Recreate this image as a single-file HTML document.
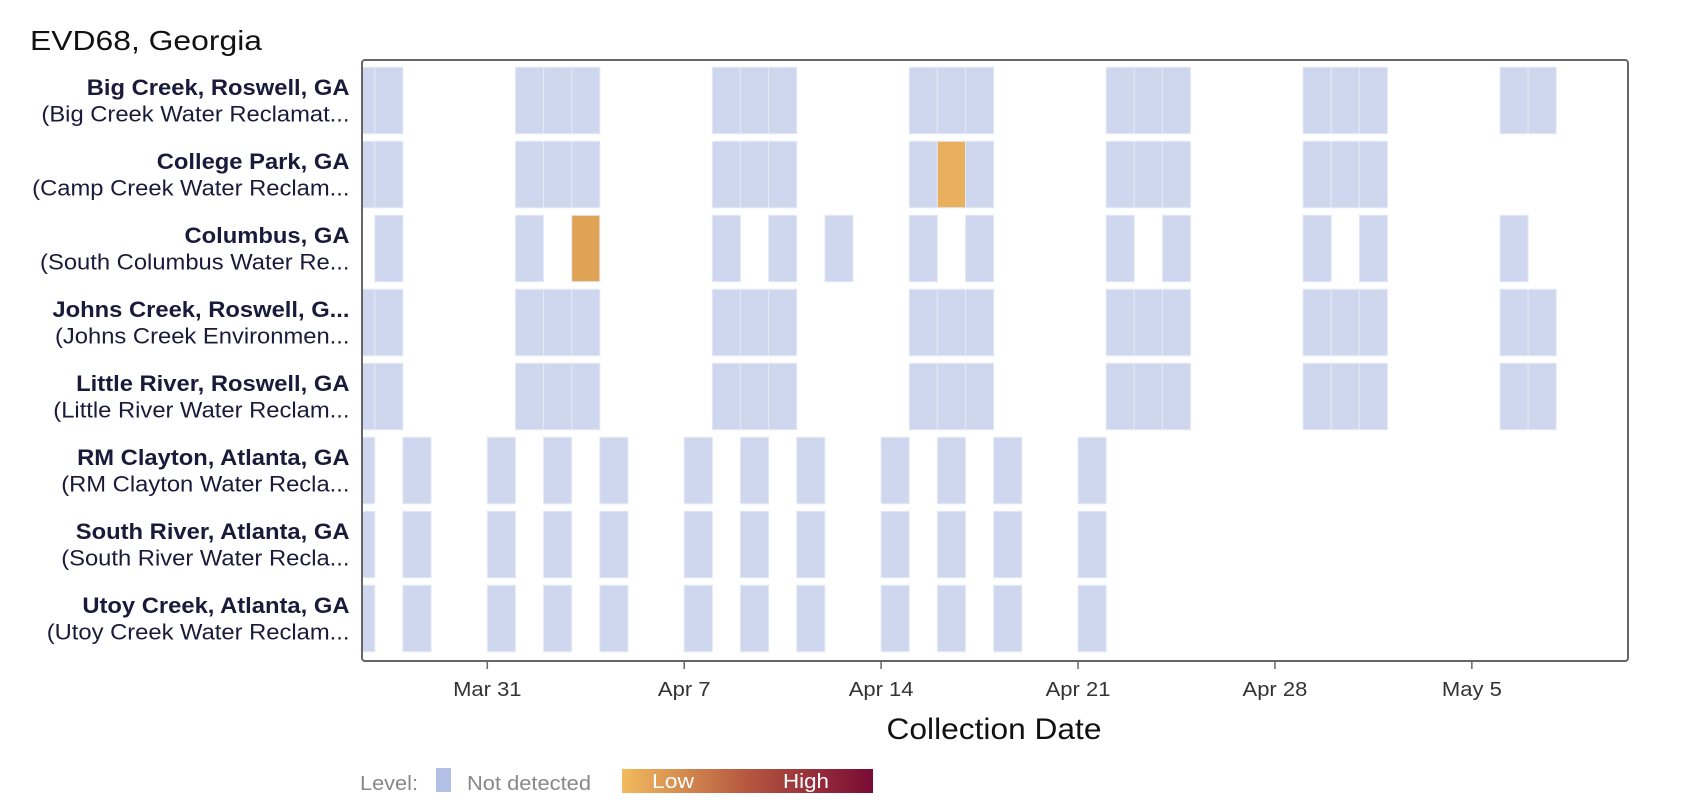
<!DOCTYPE html>
<html><head><style>body{margin:0;background:#fff}svg{display:block}</style></head><body>
<svg id="s" width="1702" height="810" xmlns="http://www.w3.org/2000/svg" font-family="Liberation Sans, Arial, sans-serif">
<text x="30" y="50" font-size="28" fill="#111" data-w="232">EVD68, Georgia</text>
<defs><clipPath id="c"><rect x="362" y="60" width="1266" height="601"/></clipPath>
<linearGradient id="g"><stop offset="0" stop-color="#f2bb5e"/><stop offset="0.5" stop-color="#b5573f"/><stop offset="1" stop-color="#7a0a35"/></linearGradient></defs>
<g id="bars" clip-path="url(#c)"></g>
<rect x="362" y="60" width="1266" height="601" rx="3" fill="none" stroke="#666" stroke-width="2"/>
<g id="lab" text-anchor="end" font-size="22" fill="#1a1a3a"></g>
<g id="ticks" font-size="20" fill="#333" text-anchor="middle"></g>
<text x="994" y="739" font-size="30" text-anchor="middle" fill="#111" data-w="215">Collection Date</text>
<text x="360" y="790" font-size="20" fill="#888" data-w="58">Level:</text>
<rect x="436" y="768" width="15" height="24" fill="#b3c0e6"/>
<text x="467" y="790" font-size="20" fill="#888" data-w="124">Not detected</text>
<rect x="622" y="769" width="251" height="24" fill="url(#g)"/>
<text x="673" y="788" font-size="20" fill="#fff" text-anchor="middle" data-w="42">Low</text>
<text x="806" y="788" font-size="20" fill="#fff" text-anchor="middle" data-w="46">High</text>
</svg>
<script>
const d=28.13,x0=487.3,ns="http://www.w3.org/2000/svg";
const bc=[-5,-4,1,2,3,8,9,10,15,16,17,22,23,24,29,30,31,36,37];
const cp=[-5,-4,1,2,3,8,9,10,15,16,17,22,23,24,29,30,31];
const co=[-4,1,3,8,10,12,15,17,22,24,29,31,36];
const rm=[-5,-3,0,2,4,7,9,11,14,16,18,21];
const rows=[["Big Creek, Roswell, GA","(Big Creek Water Reclamat...",bc,{}],
["College Park, GA","(Camp Creek Water Reclam...",cp,{16:"#e8b05c"}],
["Columbus, GA","(South Columbus Water Re...",co,{3:"#e0a254"}],
["Johns Creek, Roswell, G...","(Johns Creek Environmen...",bc,{}],
["Little River, Roswell, GA","(Little River Water Reclam...",bc,{}],
["RM Clayton, Atlanta, GA","(RM Clayton Water Recla...",rm,{}],
["South River, Atlanta, GA","(South River Water Recla...",rm,{}],
["Utoy Creek, Atlanta, GA","(Utoy Creek Water Reclam...",rm,{}]];
const B=document.getElementById("bars"),L=document.getElementById("lab"),T=document.getElementById("ticks");
function el(t,a,p,txt){const e=document.createElementNS(ns,t);for(const k in a)e.setAttribute(k,a[k]);if(txt)e.textContent=txt;p.appendChild(e);return e;}
rows.forEach((r,i)=>{const y=67.3+i*74;
r[2].forEach(k=>el("rect",{x:x0+k*d,y:y,width:d,height:66.4,fill:r[3][k]||"#cfd7ee",stroke:"#e4e9f6","stroke-width":1},B));
el("text",{x:349.5,y:y+27.7,"font-weight":"bold","data-f":1.08},L,r[0]);
el("text",{x:349.5,y:y+54.4,"data-f":1.08},L,r[1]);});
["Mar 31","Apr 7","Apr 14","Apr 21","Apr 28","May 5"].forEach((s,i)=>{const x=x0+i*7*d;
el("line",{x1:x,x2:x,y1:661,y2:669,stroke:"#666","stroke-width":1.5},T);
el("text",{x:x,y:696,"data-f":1.1},T,s);});
document.querySelectorAll("text").forEach(t=>{const n=t.getComputedTextLength();let w=null;
if(t.dataset.w)w=+t.dataset.w;else if(t.dataset.f)w=n*t.dataset.f;
if(w){t.setAttribute("textLength",w);t.setAttribute("lengthAdjust","spacingAndGlyphs");}});
</script>
</body></html>
